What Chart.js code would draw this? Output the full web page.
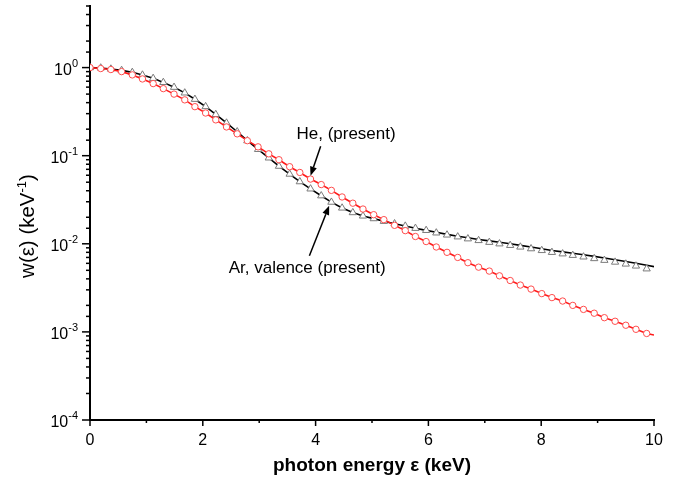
<!DOCTYPE html>
<html>
<head>
<meta charset="utf-8">
<script src="https://cdn.jsdelivr.net/npm/chart.js@4/dist/chart.umd.min.js"></script>
<style>
  html, body { margin: 0; padding: 0; background: #fff; }
  canvas { display: block; }
</style>
</head>
<body>
<canvas id="chart" width="686" height="481"></canvas>
<script>
// photon energy grid (keV)
const energy = [0, 0.19, 0.37, 0.56, 0.75, 0.93, 1.12, 1.30, 1.49, 1.68, 1.86, 2.05, 2.23, 2.42, 2.61, 2.79,
  2.98, 3.17, 3.35, 3.54, 3.72, 3.91, 4.10, 4.28, 4.47, 4.66, 4.84, 5.03, 5.21, 5.40, 5.59, 5.77, 5.96,
  6.14, 6.33, 6.52, 6.70, 6.89, 7.08, 7.26, 7.45, 7.63, 7.82, 8.01, 8.19, 8.38, 8.56, 8.75, 8.94, 9.12,
  9.31, 9.50, 9.68, 9.87, 10];

// He (present) - red line with open circles
const heW = [1.0, 0.975, 0.95, 0.90, 0.826, 0.743, 0.658, 0.577, 0.50, 0.43,
  0.36, 0.305, 0.255, 0.212, 0.177, 0.148, 0.126, 0.105, 0.090, 0.075,
  0.0645, 0.0543, 0.047, 0.0404, 0.034, 0.0289, 0.0248, 0.0214, 0.0188, 0.0162,
  0.0141, 0.0121, 0.0106, 0.0092, 0.0080, 0.0070, 0.0061, 0.00543, 0.0049, 0.00433,
  0.00383, 0.0034, 0.00306, 0.00272, 0.00245, 0.00224, 0.0020, 0.0018, 0.00163, 0.00145,
  0.00132, 0.00119, 0.00107, 0.00096, 0.00092];

// Ar valence (present) - black line
const arW = [1.0, 0.991, 0.964, 0.929, 0.883, 0.824, 0.755, 0.679, 0.598, 0.516,
  0.437, 0.361, 0.294, 0.235, 0.187, 0.148, 0.118, 0.0944, 0.076, 0.0618,
  0.0507, 0.042, 0.0351, 0.0297, 0.0255, 0.0226, 0.0207, 0.0193, 0.0180, 0.0169,
  0.0159, 0.0150, 0.0142, 0.0135, 0.0128, 0.0122, 0.0117, 0.0112, 0.0108, 0.0104,
  0.0100, 0.0096, 0.0092, 0.0088, 0.0084, 0.0081, 0.0078, 0.0075, 0.0072, 0.0069,
  0.0066, 0.0063, 0.0060, 0.0057, 0.0055];

// Ar triangles (grey open markers)
const arTri = [1.0, 0.991, 0.964, 0.929, 0.883, 0.824, 0.755, 0.679, 0.598, 0.516,
  0.437, 0.361, 0.294, 0.235, 0.187, 0.148, 0.118, 0.0944, 0.076, 0.0618,
  0.0507, 0.042, 0.0351, 0.0297, 0.0255, 0.0226, 0.0207, 0.0193, 0.0180, 0.0169,
  0.0159, 0.0150, 0.0142, 0.0133, 0.0126, 0.0120, 0.0114, 0.0109, 0.0104, 0.0100,
  0.0096, 0.0092, 0.0088, 0.0084, 0.0080, 0.0077, 0.0074, 0.0071, 0.0068, 0.0065,
  0.0062, 0.0059, 0.0056, 0.0052, null];

const yMin = 1e-4;
const yMax = 5;
const xTickLabels = ['0', '', '2', '', '4', '', '6', '', '8', '', '10'];

// annotations (data coordinates)
const heLabel = { text: 'He, (present)', x: 4.54, y: 0.173, from: [4.09, 0.128], to: [3.91, 0.0593] };
const arLabel = { text: 'Ar, valence (present)', x: 3.85, y: 0.0053, from: [3.89, 0.0073], to: [4.24, 0.027] };

const FONT = 'Arial, "Liberation Sans", sans-serif';

function toPoints(ys) {
  return energy.map((e, i) => ({ x: e, y: ys[i] }));
}

function isDecade(v) {
  const lg = Math.log10(v);
  return Math.abs(lg - Math.round(lg)) < 1e-6;
}

// traits des axes (majeurs / mineurs) et étiquettes 10^n de l'axe Y
const tickMarks = {
  id: 'tickMarks',
  afterDraw(chart) {
    const { ctx, chartArea, scales } = chart;
    ctx.save();
    ctx.strokeStyle = '#000';
    ctx.fillStyle = '#000';
    ctx.lineWidth = 1.5;
    scales.y.ticks.forEach(t => {
      const p = scales.y.getPixelForValue(t.value);
      const major = isDecade(t.value);
      const len = major ? 8 : 4;
      ctx.beginPath();
      ctx.moveTo(chartArea.left - len, p);
      ctx.lineTo(chartArea.left, p);
      ctx.stroke();
      if (major) {
        const exp = String(Math.round(Math.log10(t.value)));
        ctx.font = '11px ' + FONT;
        const we = ctx.measureText(exp).width;
        const right = chartArea.left - 12;
        ctx.textAlign = 'right';
        ctx.textBaseline = 'alphabetic';
        ctx.fillText(exp, right, p - 1);
        ctx.font = '16px ' + FONT;
        ctx.fillText('10', right - we, p + 7);
      }
    });
    scales.x.ticks.forEach(t => {
      const p = scales.x.getPixelForValue(t.value);
      const len = t.value % 2 === 0 ? 6 : 3;
      ctx.beginPath();
      ctx.moveTo(p, chartArea.bottom);
      ctx.lineTo(p, chartArea.bottom + len);
      ctx.stroke();
    });
    ctx.restore();
  }
};

function arrow(ctx, x1, y1, x2, y2) {
  const ang = Math.atan2(y2 - y1, x2 - x1);
  const hl = 9, hw = 3.5;
  const bx = x2 - hl * Math.cos(ang), by = y2 - hl * Math.sin(ang);
  ctx.beginPath();
  ctx.moveTo(x1, y1);
  ctx.lineTo(bx, by);
  ctx.stroke();
  ctx.beginPath();
  ctx.moveTo(x2, y2);
  ctx.lineTo(bx + hw * Math.sin(ang), by - hw * Math.cos(ang));
  ctx.lineTo(bx - hw * Math.sin(ang), by + hw * Math.cos(ang));
  ctx.closePath();
  ctx.fill();
}

const annotations = {
  id: 'annotations',
  afterDraw(chart) {
    const { ctx, scales: { x, y } } = chart;
    ctx.save();
    ctx.fillStyle = '#000';
    ctx.strokeStyle = '#000';
    ctx.lineWidth = 1.5;
    ctx.font = '17px ' + FONT;
    ctx.textAlign = 'center';
    ctx.textBaseline = 'middle';
    [heLabel, arLabel].forEach(a => {
      ctx.fillText(a.text, x.getPixelForValue(a.x), y.getPixelForValue(a.y));
      arrow(ctx,
        x.getPixelForValue(a.from[0]), y.getPixelForValue(a.from[1]),
        x.getPixelForValue(a.to[0]), y.getPixelForValue(a.to[1]));
    });

    // titre de l'axe Y avec exposant
    const cx = 27, cy = 226;
    ctx.translate(cx, cy);
    ctx.rotate(-Math.PI / 2);
    ctx.textAlign = 'left';
    ctx.textBaseline = 'alphabetic';
    const main = '20.5px ' + FONT, sup = '13px ' + FONT;
    ctx.font = main;
    const w1 = ctx.measureText('w(ε) (keV').width;
    const w3 = ctx.measureText(')').width;
    ctx.font = sup;
    const w2 = ctx.measureText('-1').width;
    let sx = -(w1 + w2 + w3) / 2;
    const base = 7;
    ctx.font = main;
    ctx.fillText('w(ε) (keV', sx, base);
    sx += w1;
    ctx.font = sup;
    ctx.fillText('-1', sx, base - 8);
    sx += w2;
    ctx.font = main;
    ctx.fillText(')', sx, base);
    ctx.restore();
  }
};

new Chart(document.getElementById('chart'), {
  type: 'line',
  data: {
    datasets: [
      {
        label: 'He, (present)',
        data: toPoints(heW),
        borderColor: '#ff1a1a',
        borderWidth: 1.6,
        backgroundColor: '#fff',
        pointStyle: 'circle',
        pointRadius: ctx => (ctx.dataIndex === energy.length - 1 ? 0 : 3.2),
        pointBorderColor: '#ff4d4d',
        pointBackgroundColor: '#fff',
        pointBorderWidth: 1,
        tension: 0,
        order: 1
      },
      {
        label: 'Ar triangles',
        data: toPoints(arTri),
        showLine: false,
        pointStyle: 'triangle',
        pointRadius: 4.2,
        pointBorderColor: '#7a7a7a',
        pointBackgroundColor: '#fff',
        pointBorderWidth: 1,
        order: 2
      },
      {
        label: 'Ar, valence (present)',
        data: toPoints(arW),
        borderColor: '#000',
        borderWidth: 1.6,
        pointRadius: 0,
        tension: 0,
        order: 3
      }
    ]
  },
  options: {
    responsive: false,
    animation: false,
    devicePixelRatio: 1,
    layout: { padding: { top: 6, right: 32, left: 0, bottom: 0 } },
    plugins: {
      legend: { display: false },
      tooltip: { enabled: false }
    },
    scales: {
      x: {
        type: 'linear',
        min: 0,
        max: 10,
        afterFit: s => { s.height = 61; },
        grid: { display: true, drawOnChartArea: false, tickColor: 'transparent', tickLength: 6 },
        border: { display: true, color: '#000', width: 2 },
        ticks: {
          stepSize: 1,
          autoSkip: false,
          maxRotation: 0,
          padding: 5,
          color: '#000',
          font: { family: FONT, size: 16 },
          callback: (v) => xTickLabels[v] ?? ''
        },
        title: {
          display: true,
          text: 'photon energy ε (keV)',
          color: '#000',
          font: { family: FONT, size: 19, weight: 'bold' },
          padding: { top: 0, bottom: 4 }
        }
      },
      y: {
        type: 'logarithmic',
        min: yMin,
        max: yMax,
        afterFit: s => { s.width = 90; s.paddingTop = 0; s.paddingBottom = 0; },
        grid: { display: true, drawOnChartArea: false, tickColor: 'transparent', tickLength: 8 },
        border: { display: true, color: '#000', width: 2 },
        ticks: {
          autoSkip: false,
          padding: 4,
          // étiquettes dessinées par le plugin tickMarks (exposants)
          callback: () => ''
        }
      }
    }
  },
  plugins: [tickMarks, annotations]
});
</script>
</body>
</html>
